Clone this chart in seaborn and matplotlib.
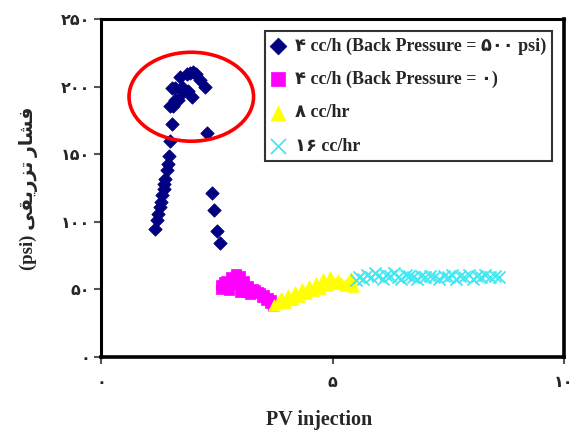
import matplotlib
matplotlib.use("Agg")
import matplotlib.pyplot as plt
from matplotlib.patches import Ellipse
import seaborn as sns

# ---------------- data ----------------
blue_x = [1.17, 1.20, 1.24, 1.27, 1.29, 1.31, 1.35, 1.36, 1.38, 1.42, 1.45, 1.47,
          1.49, 1.53, 1.49, 1.56, 1.60, 1.53, 1.60, 1.67, 1.74, 1.71, 1.78, 1.85,
          1.92, 1.99, 2.06, 2.14, 2.25, 1.96, 1.88, 2.28, 2.39, 2.43, 2.50, 2.57]
blue_y = [95, 101, 106, 111, 115, 120, 124, 128, 132, 138, 143, 149,
          160, 172, 186, 186, 190, 199, 199, 190, 200, 207, 196, 209,
          210, 211, 209, 205, 200, 192, 197, 166, 121, 109, 93, 84]

mag_x = [2.59, 2.59, 2.66, 2.70, 2.70, 2.76, 2.81, 2.85, 2.92, 2.92, 3.00, 3.00,
         3.07, 3.09, 3.13, 3.17, 3.22, 3.28, 3.33, 3.39, 3.43, 3.48, 3.52, 3.56,
         3.61, 3.65, 3.67, 3.71]
mag_y = [53.3, 50.3, 55.5, 56.2, 51.8, 49.6, 59.2, 54.0, 61.4, 57.0, 59.9, 48.1,
         51.8, 56.2, 48.1, 52.5, 46.6, 50.3, 49.6, 48.1, 47.3, 44.4, 45.9, 42.2,
         43.6, 39.9, 42.2, 37.7]

yel_x = [3.74, 3.82, 3.89, 3.97, 4.04, 4.13, 4.19, 4.28, 4.34, 4.43, 4.49, 4.58,
         4.64, 4.73, 4.79, 4.88, 4.95, 5.03, 5.12, 5.18, 5.27, 5.33, 5.40, 5.44]
yel_y = [38.5, 40.7, 43.6, 40.7, 45.9, 42.9, 48.1, 45.1, 50.3, 47.3, 52.5, 49.6,
         54.7, 51.0, 57.7, 53.3, 59.2, 54.7, 57.0, 54.7, 53.3, 55.5, 58.4, 52.5]

cyan_x = [5.50, 5.58, 5.66, 5.74, 5.83, 5.91, 5.99, 6.08, 6.16, 6.24, 6.33, 6.41,
          6.49, 6.58, 6.66, 6.74, 6.83, 6.91, 7.00, 7.10, 7.20, 7.30, 7.40, 7.49,
          7.58, 7.67, 7.76, 7.85, 7.94, 8.03, 8.12, 8.21, 8.30, 8.40, 8.50, 8.60]
cyan_y = [57, 59, 58, 61, 59, 62, 60, 58, 61, 60, 62, 59,
          58, 61, 60, 59, 58, 60, 59, 60, 59, 58, 60, 59,
          61, 58, 60, 59, 61, 58, 60, 59, 61, 59, 60, 59]

series_labels = ["۴ cc/h (Back Pressure = ۵۰۰ psi)",
                 "۴ cc/h (Back Pressure = ۰)",
                 "۸ cc/hr",
                 "۱۶ cc/hr"]

x_ticks = [0, 5, 10]
x_tick_labels = ["۰", "۵", "۱۰"]
y_ticks = [0, 50, 100, 150, 200, 250]
y_tick_labels = ["۰", "۵۰", "۱۰۰", "۱۵۰", "۲۰۰", "۲۵۰"]

x_label = "PV injection"
# "فشار تزریقی (psi)" written with Arabic presentation forms in visual order
y_label = "(psi) " + "\uFEF0\uFED8\uFEF3\uFEAD\uFEB0\uFE97" + " " + "\uFEAD\uFE8E\uFEB8\uFED3"

# ---------------- styling ----------------
sns.set_theme(style="white")
FAM = ["Liberation Serif", "DejaVu Sans"]
plt.rcParams["font.family"] = FAM
plt.rcParams["font.weight"] = "bold"

fig = plt.figure(figsize=(5.76, 4.33), dpi=100)
ax = fig.add_axes([101 / 576, 1 - 357 / 433, 463 / 576, 338 / 433])

sns.scatterplot(x=blue_x, y=blue_y, ax=ax, marker="D", s=46, color="#000080",
                edgecolor="#000080", linewidth=0.6, label=series_labels[0], zorder=3)
sns.scatterplot(x=mag_x, y=mag_y, ax=ax, marker="s", s=60, color="#FF00FF",
                edgecolor="#FF00FF", linewidth=0.5, label=series_labels[1], zorder=3)
sns.scatterplot(x=yel_x, y=yel_y, ax=ax, marker="^", s=72, color="#FFFF00",
                edgecolor="#FFFF00", linewidth=0.5, label=series_labels[2], zorder=3)
sns.scatterplot(x=cyan_x, y=cyan_y, ax=ax, marker="x", s=75, color="#40E8F2",
                linewidth=1.3, label=series_labels[3], zorder=3)

ax.add_patch(Ellipse((1.95, 192.5), 2.69, 65.8, fill=False, edgecolor="#FF0000",
                     linewidth=2.6, zorder=4))

ax.set_xlim(0, 10)
ax.set_ylim(0, 250)
ax.set_xticks(x_ticks)
ax.set_xticklabels(x_tick_labels)
ax.set_yticks(y_ticks)
ax.set_yticklabels(y_tick_labels)
ax.tick_params(axis="both", direction="out", length=5, width=1.5, color="#555555",
               labelsize=11.5, pad=3, left=True, bottom=True)
ax.tick_params(axis="x", pad=8)
for lab in ax.get_xticklabels() + ax.get_yticklabels():
    lab.set_fontweight("bold")
    lab.set_family(FAM)

for side, lw in [("left", 2.2), ("bottom", 2.6), ("top", 2.2), ("right", 2.6)]:
    ax.spines[side].set_visible(True)
    ax.spines[side].set_color("black")
    ax.spines[side].set_linewidth(lw)

ax.set_xlabel(x_label, fontsize=14.5, fontweight="bold", family=FAM)
ax.xaxis.set_label_coords(0.471, -0.158)
ax.set_ylabel(y_label, fontsize=13.5, fontweight="bold", family=FAM)
ax.yaxis.set_label_coords(-0.136, 0.50)

leg = ax.legend(loc="upper left", bbox_to_anchor=(0.354, 0.9645), frameon=True,
                fancybox=False, edgecolor="black",
                prop={"family": FAM, "weight": "bold", "size": 13},
                handletextpad=0.6, borderpad=0.35, labelspacing=0.9, handlelength=0.7,
                borderaxespad=0, markerscale=1.25)
leg.get_frame().set_linewidth(1.5)
leg.set_zorder(5)

fig.savefig("out.png", dpi=100, facecolor="white")
